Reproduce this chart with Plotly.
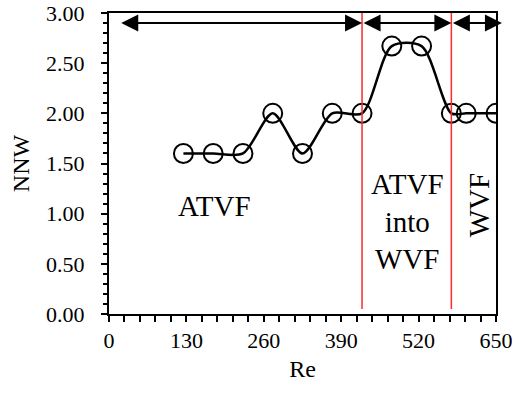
import plotly.graph_objects as go

# Reynolds number and node count
re_vals = [125, 175, 225, 275, 325, 375, 425, 475, 525, 575, 600, 650]
nnw_vals = [1.6, 1.6, 1.6, 2.0, 1.6, 2.0, 2.0, 2.67, 2.67, 2.0, 2.0, 2.0]

# Regime boundaries and spans
boundaries = [425, 575]
spans = [(18, 425), (425, 575), (575, 660)]
span_y = 2.9

x_ticks = [0, 130, 260, 390, 520, 650]
y_ticks = [0.0, 0.5, 1.0, 1.5, 2.0, 2.5, 3.0]

FONT = "Liberation Serif"
tick_font = dict(family=FONT, size=22, color="black")
title_font = dict(family=FONT, size=24, color="black")
label_font = dict(family=FONT, size=29, color="black")

fig = go.Figure()
fig.add_trace(go.Scatter(
    x=re_vals, y=nnw_vals,
    mode="lines+markers",
    line=dict(color="black", width=2.5, shape="spline", smoothing=0.8),
    marker=dict(symbol="circle-open", size=19, color="black",
                line=dict(color="black", width=2)),
    showlegend=False,
))

for b in boundaries:
    fig.add_shape(type="line", x0=b, x1=b, y0=0.05, y1=3.02,
                  xref="x", yref="y", layer="above",
                  line=dict(color="#ff2a2a", width=1.5))

annotations = []
for x0, x1 in spans:
    annotations.append(dict(
        x=x1, y=span_y, ax=x0, ay=span_y, xref="x", yref="y",
        axref="x", ayref="y", text="", showarrow=True,
        arrowhead=2, startarrowhead=2, arrowside="end+start",
        arrowsize=1.7, startarrowsize=1.7, arrowwidth=2, arrowcolor="black",
    ))

annotations += [
    dict(x=178, y=1.08, text="ATVF", showarrow=False, font=label_font),
    dict(x=502, y=0.92, text="ATVF<br>into<br>WVF", showarrow=False, font=label_font),
    dict(x=621, y=1.08, text="WVF", showarrow=False, textangle=-90, font=label_font),
]

fig.update_layout(
    width=526, height=394,
    margin=dict(l=109, r=30, t=13, b=80),
    paper_bgcolor="white", plot_bgcolor="white",
    font=dict(family=FONT, size=22, color="black"),
    annotations=annotations,
    xaxis=dict(
        range=[0, 650], tickvals=x_ticks, ticktext=[str(v) for v in x_ticks],
        tickfont=tick_font, automargin=False, ticklabelstandoff=0,
        ticks="outside", ticklen=6, tickwidth=2, tickcolor="black",
        minor=dict(dtick=26, ticks="outside", ticklen=6, tickwidth=2, tickcolor="black"),
        showline=True, linecolor="black", linewidth=2, mirror=True,
        showgrid=False, zeroline=False,
        title=dict(text="Re", font=title_font, standoff=8),
    ),
    yaxis=dict(
        range=[0, 3], tickvals=y_ticks, ticktext=[f"{v:.2f}" for v in y_ticks],
        tickfont=tick_font, automargin=False, ticklabelstandoff=12,
        ticks="outside", ticklen=6, tickwidth=2, tickcolor="black",
        minor=dict(dtick=0.1, ticks="outside", ticklen=4, tickwidth=2, tickcolor="black"),
        showline=True, linecolor="black", linewidth=2, mirror=True,
        showgrid=False, zeroline=False,
        title=dict(text="NNW", font=title_font, standoff=10),
    ),
)

fig.write_html("out.html")
